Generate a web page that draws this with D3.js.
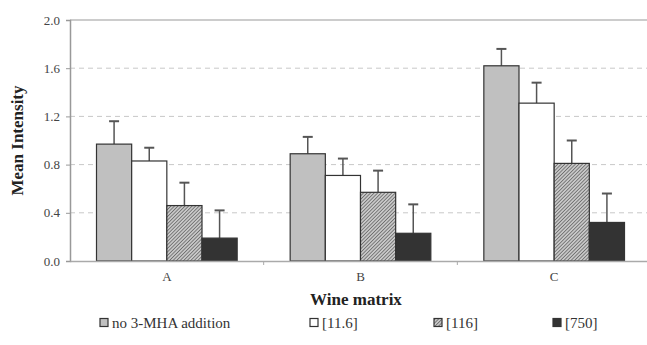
<!DOCTYPE html>
<html>
<head>
<meta charset="utf-8">
<script src="https://cdn.jsdelivr.net/npm/d3@7"></script>
<style>
 body { margin: 0; background: #fff; }
 svg text { font-family: "Liberation Serif", "Times New Roman", Times, serif !important; }
</style>
</head>
<body>
<div id="chart"></div>
<script>
var categories = ["A", "B", "C"];
var series = ["no 3-MHA addition", "[11.6]", "[116]", "[750]"];
// mean per category, one array per series
var means = [
 [0.97, 0.89, 1.62],
 [0.83, 0.71, 1.31],
 [0.46, 0.57, 0.81],
 [0.19, 0.23, 0.32]
];
// top of each error bar
var errTops = [
 [1.16, 1.03, 1.76],
 [0.94, 0.85, 1.48],
 [0.65, 0.75, 1.00],
 [0.42, 0.47, 0.56]
];
var yTicks = [0.0, 0.4, 0.8, 1.2, 1.6, 2.0];

var serif = "'Liberation Serif', 'Times New Roman', serif";

var width = 647,
 height = 345,
 margin = {top: 20, right: -4, bottom: 84, left: 70};
var w = width - margin.left - margin.right,
 h = height - margin.top - margin.bottom;

var svg = d3.select("#chart")
 .append("svg")
 .attr("width", width)
 .attr("height", height)
 .attr("font-family", serif);

var defs = svg.append("defs");
var pat = defs.append("pattern")
 .attr("id", "hatch")
 .attr("patternUnits", "userSpaceOnUse")
 .attr("width", 2.5)
 .attr("height", 2.5)
 .attr("patternTransform", "rotate(45)");
pat.append("rect").attr("width", 2.5).attr("height", 2.5).attr("fill", "#c8c8c8");
pat.append("line").attr("x1", 0).attr("y1", 0).attr("x2", 0).attr("y2", 2.5)
 .attr("stroke", "#4a4a4a").attr("stroke-width", 1.2);

var fills = ["#c0c0c0", "#ffffff", "url(#hatch)", "#333333"];

var g = svg.append("g")
 .attr("transform", "translate(" + margin.left + "," + margin.top + ")");

var x0 = d3.scaleBand().domain(categories).range([0, w]).paddingInner(0).paddingOuter(0);
var x1 = d3.scaleBand().domain(d3.range(series.length))
 .range([26.5, x0.bandwidth() - 26.5]);
var y = d3.scaleLinear().domain([0, 2]).range([h, 0]);

// gridlines
g.selectAll(".grid")
 .data(yTicks.filter(function(d) { return d > 0 && d < 2; }))
 .enter().append("line")
 .attr("x1", 0).attr("x2", w)
 .attr("y1", function(d) { return y(d); })
 .attr("y2", function(d) { return y(d); })
 .attr("stroke", "#c8c8c8")
 .attr("stroke-dasharray", "5,4");

// top border
g.append("line").attr("x1", 0).attr("x2", w).attr("y1", y(2)).attr("y2", y(2))
 .attr("stroke", "#999").attr("stroke-width", 1.2);

// y axis
var yAxis = g.append("g")
 .call(d3.axisLeft(y).tickValues(yTicks).tickFormat(d3.format(".1f")).tickSize(4).tickPadding(6));
yAxis.attr("font-family", serif);
yAxis.select(".domain").attr("stroke", "#999").attr("stroke-width", 1.5);
yAxis.selectAll(".tick line").attr("stroke", "#999");
yAxis.selectAll("text").attr("font-size", 13).attr("fill", "#444");

// bars
var groups = g.selectAll(".cat")
 .data(categories)
 .enter().append("g")
 .attr("transform", function(d) { return "translate(" + x0(d) + ",0)"; });

groups.each(function(cat, ci) {
 var grp = d3.select(this);
 series.forEach(function(s, si) {
  var v = means[si][ci];
  var cx = x1(si) + x1.bandwidth() / 2;
  grp.append("line")
   .attr("x1", cx).attr("x2", cx)
   .attr("y1", y(v)).attr("y2", y(errTops[si][ci]))
   .attr("stroke", "#555").attr("stroke-width", 1.5);
  grp.append("line")
   .attr("x1", cx - 5).attr("x2", cx + 5)
   .attr("y1", y(errTops[si][ci])).attr("y2", y(errTops[si][ci]))
   .attr("stroke", "#555").attr("stroke-width", 2);
  grp.append("rect")
   .attr("x", x1(si))
   .attr("y", y(v))
   .attr("width", x1.bandwidth())
   .attr("height", h - y(v))
   .attr("fill", fills[si])
   .attr("stroke", "#333")
   .attr("stroke-width", 1.2);
 });
});

// x axis
var xAxis = g.append("g")
 .attr("transform", "translate(0," + h + ")")
 .call(d3.axisBottom(x0).tickSize(0).tickPadding(11));
xAxis.attr("font-family", serif);
xAxis.select(".domain").attr("stroke", "#aaa").attr("stroke-width", 1.5);
xAxis.selectAll("text").attr("font-size", 13).attr("fill", "#444");
g.selectAll(".sep")
 .data(categories.slice(1))
 .enter().append("line")
 .attr("x1", function(d) { return x0(d); })
 .attr("x2", function(d) { return x0(d); })
 .attr("y1", h).attr("y2", h + 4)
 .attr("stroke", "#aaa");

// axis titles
svg.append("text")
 .attr("transform", "translate(23," + (margin.top + h / 2) + ") rotate(-90)")
 .attr("text-anchor", "middle")
 .attr("font-size", 17)
 .attr("font-weight", "bold")
 .attr("fill", "#222")
 .text("Mean Intensity");

svg.append("text")
 .attr("x", 356)
 .attr("y", 305)
 .attr("text-anchor", "middle")
 .attr("font-size", 17)
 .attr("font-weight", "bold")
 .attr("fill", "#222")
 .text("Wine matrix");

// legend
var legX = [100, 310, 434, 553];
var leg = svg.selectAll(".leg")
 .data(series)
 .enter().append("g")
 .attr("transform", function(d, i) { return "translate(" + legX[i] + ",323)"; });
leg.append("rect")
 .attr("x", 0).attr("y", -4.5)
 .attr("width", 8).attr("height", 8)
 .attr("fill", function(d, i) { return fills[i]; })
 .attr("stroke", "#333").attr("stroke-width", 1.2);
leg.append("text")
 .attr("x", 12).attr("y", 0).attr("dy", "0.35em")
 .attr("font-size", 15)
 .attr("fill", "#333")
 .text(function(d) { return d; });
</script>
</body>
</html>
